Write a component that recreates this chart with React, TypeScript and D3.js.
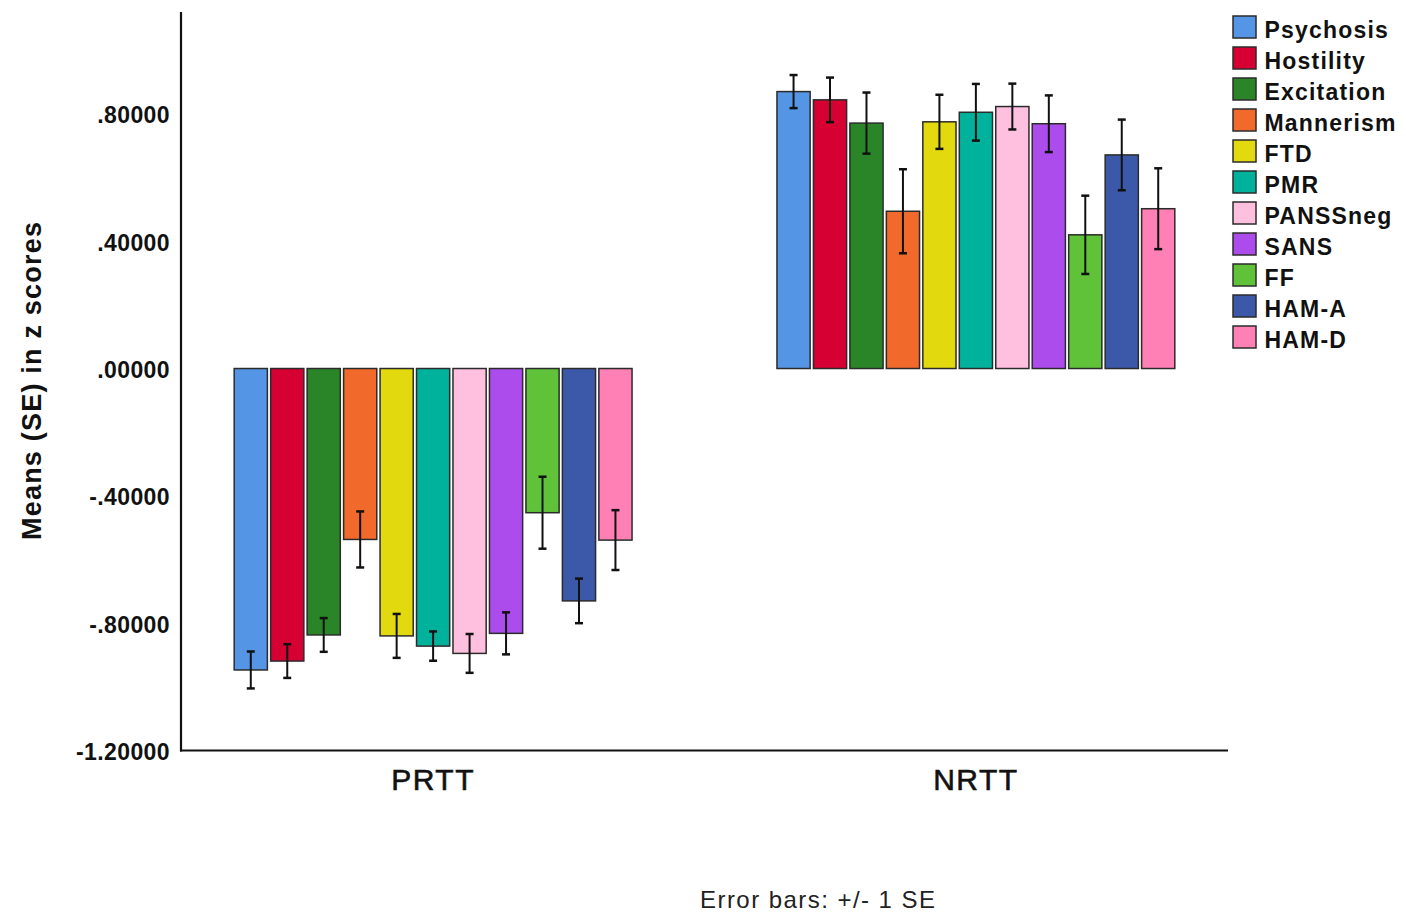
import React from "react";
import * as d3 from "d3";

const groups = ["PRTT", "NRTT"];
const measures = [
  "Psychosis",
  "Hostility",
  "Excitation",
  "Mannerism",
  "FTD",
  "PMR",
  "PANSSneg",
  "SANS",
  "FF",
  "HAM-A",
  "HAM-D",
];
const colors = [
  "#5595e5",
  "#d60032",
  "#298528",
  "#f2692c",
  "#e2d90f",
  "#00b29c",
  "#ffc0e0",
  "#ac4ced",
  "#5fc238",
  "#3c58a8",
  "#ff80b4",
];
const prttMeans = [-0.947, -0.919, -0.837, -0.537, -0.84, -0.872, -0.895, -0.832, -0.453, -0.73, -0.539];
const prttSE = [0.058, 0.053, 0.053, 0.088, 0.069, 0.046, 0.061, 0.066, 0.113, 0.07, 0.094];
const nrttMeans = [0.87, 0.844, 0.771, 0.494, 0.775, 0.805, 0.823, 0.769, 0.42, 0.671, 0.502];
const nrttSE = [0.052, 0.07, 0.096, 0.132, 0.085, 0.089, 0.072, 0.089, 0.123, 0.111, 0.127];
const yTicks = [-1.2, -0.8, -0.4, 0, 0.4, 0.8];

const W = 1406;
const H = 916;

export default function App() {
  const x0 = d3
    .scaleBand<string>()
    .domain(groups)
    .range([181, 1228])
    .paddingInner(0.267)
    .paddingOuter(0.098);
  const x1 = d3
    .scaleBand<string>()
    .domain(measures)
    .range([0, x0.bandwidth()])
    .paddingInner(0.09);
  const y = d3.scaleLinear().domain([-1.2, 1.12]).range([750.5, 12]);
  // SPSS-style labels: five decimals, no leading zero, ASCII hyphen for minus
  const fmt = (v: number) => {
    const s = d3.format(".5f")(v).replace("\u2212", "-");
    return s.replace(/^(-?)0\./, "$1.");
  };

  const rows = groups.map((g, gi) => ({
    group: g,
    means: gi === 0 ? prttMeans : nrttMeans,
    ses: gi === 0 ? prttSE : nrttSE,
  }));

  const sans = "'Liberation Sans', Arial, sans-serif";
  const capW = 8;

  return (
    <svg
      width={W}
      height={H}
      style={{ position: "absolute", left: 0, top: 0, background: "#fff" }}
      fontFamily={sans}
    >
      <rect width={W} height={H} fill="#fff" />

      {/* bars */}
      {rows.map((r) => (
        <g key={r.group} transform={`translate(${x0(r.group)},0)`}>
          {measures.map((m, i) => {
            const v = r.means[i];
            const bx = x1(m)!;
            const top = y(Math.max(0, v));
            const bot = y(Math.min(0, v));
            return (
              <rect
                key={m}
                x={bx}
                y={top}
                width={x1.bandwidth()}
                height={bot - top}
                fill={colors[i]}
                stroke="#2b2b2b"
                strokeWidth={1.5}
              />
            );
          })}
          {measures.map((m, i) => {
            const v = r.means[i];
            const se = r.ses[i];
            const cx = x1(m)! + x1.bandwidth() / 2;
            const y1 = y(v + se);
            const y2 = y(v - se);
            return (
              <g key={m + "-err"} stroke="#111" strokeWidth={2}>
                <line x1={cx} x2={cx} y1={y1} y2={y2} />
                <line x1={cx - capW / 2} x2={cx + capW / 2} y1={y1} y2={y1} strokeWidth={2.5} />
                <line x1={cx - capW / 2} x2={cx + capW / 2} y1={y2} y2={y2} strokeWidth={2.5} />
              </g>
            );
          })}
        </g>
      ))}

      {/* axes */}
      <line x1={181} x2={181} y1={y(1.12)} y2={y(-1.2) + 1} stroke="#111" strokeWidth={2.2} />
      <line x1={180} x2={1228} y1={y(-1.2)} y2={y(-1.2)} stroke="#111" strokeWidth={2.2} />

      {yTicks.map((t) => (
        <text
          key={t}
          x={170}
          y={y(t) + 9.5}
          textAnchor="end"
          fontSize={23}
          fontWeight="bold"
          letterSpacing={0.4}
          fill="#111"
        >
          {fmt(t)}
        </text>
      ))}

      {groups.map((g) => (
        <text
          key={g}
          x={x0(g)! + x0.bandwidth() / 2}
          y={790}
          textAnchor="middle"
          fontSize={30}
          fill="#111"
          stroke="#111"
          strokeWidth={0.6}
          letterSpacing={1.5}
        >
          {g}
        </text>
      ))}

      <text
        transform="translate(41,381) rotate(-90)"
        textAnchor="middle"
        fontSize={27}
        fontWeight="bold"
        fill="#111"
        textLength={318}
        lengthAdjust="spacing"
      >
        Means (SE) in z scores
      </text>

      <text
        x={817.5}
        y={908}
        textAnchor="middle"
        fontSize={24}
        fill="#222"
        textLength={235}
        lengthAdjust="spacing"
      >
        Error bars: +/- 1 SE
      </text>

      {/* legend */}
      {measures.map((m, i) => (
        <g key={m} transform={`translate(1233,${16 + i * 31})`}>
          <rect x={0} y={0} width={23} height={22} fill={colors[i]} stroke="#2b2b2b" strokeWidth={1.5} />
          <text x={31.5} y={22.3} fontSize={23} fontWeight="bold" fill="#111" letterSpacing={1.2}>
            {m}
          </text>
        </g>
      ))}
    </svg>
  );
}
